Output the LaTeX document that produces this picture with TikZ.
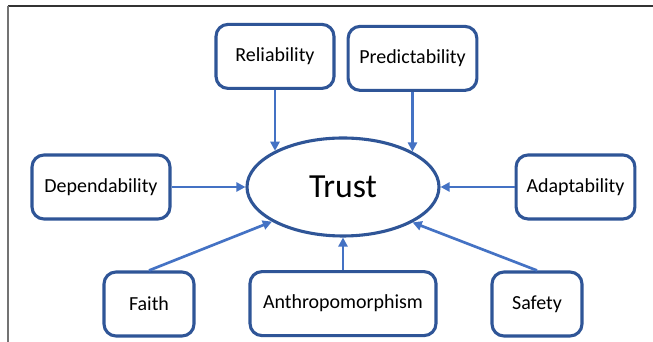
\documentclass[tikz,border=0pt]{standalone}
\usepackage{fontspec}
\setmainfont{Carlito}
\usepackage{tikz}
\usetikzlibrary{arrows.meta,shapes.geometric}

\definecolor{boxblue}{HTML}{2F5597}
\definecolor{arrowblue}{HTML}{4472C4}

\begin{document}
\begin{tikzpicture}[
    factor/.style={draw=boxblue, line width=2.2pt, rounded corners=3mm, minimum height=1.6cm, inner sep=0pt, font=\fontsize{14.2}{17}\selectfont},
    hub/.style={draw=boxblue, line width=2.2pt, ellipse, minimum width=4.8cm, minimum height=2.45cm, inner sep=0pt, font=\fontsize{24}{28}\selectfont},
    arr/.style={draw=arrowblue, line width=1.9pt, -{Triangle[length=2.3mm,width=2.3mm]}}
  ]
        \useasboundingbox (0.0, 0.0) rectangle (16.325, 8.55);
        \fill [white] (0.0, 0.0) rectangle (16.325, 8.55);

        % frame
        \draw [line width=0.8pt, black!80] (0.2, 8.4) -- (16.325, 8.4);
        \draw [line width=0.8pt, black!55] (0.2, 8.4) -- (0.2, 0.0);

        % centre
        \node [hub] (trust) at (8.575, 3.875) {Trust};

        % factors
        \node [factor, minimum width=2.95cm] (reliability) at (6.875, 7.14) {Reliability};
        \node [factor, minimum width=3.22cm] (predictability) at (10.3125, 7.09) {Predictability};
        \node [factor, minimum width=3.45cm] (dependability) at (2.525, 3.875) {Dependability};
        \node [factor, minimum width=2.97cm] (adaptability) at (14.3875, 3.875) {Adaptability};
        \node [factor, minimum width=2.25cm] (faith) at (3.725, 0.95) {Faith};
        \node [factor, minimum width=4.65cm] (anthropomorphism) at (8.575, 0.96) {Anthropomorphism};
        \node [factor, minimum width=2.25cm] (safety) at (13.425, 0.95) {Safety};

        % arrows
        \draw [arr] (reliability) -- (reliability |- trust.152);
        \draw [arr] (predictability) -- (predictability |- trust.27);
        \draw [arr] (dependability) -- (trust);
        \draw [arr] (adaptability) -- (trust);
        \draw [arr] (faith.north) -- (trust.206);
        \draw [arr] (anthropomorphism) -- (trust);
        \draw [arr] (safety.north) -- (trust.333);
      \end{tikzpicture}
\end{document}
